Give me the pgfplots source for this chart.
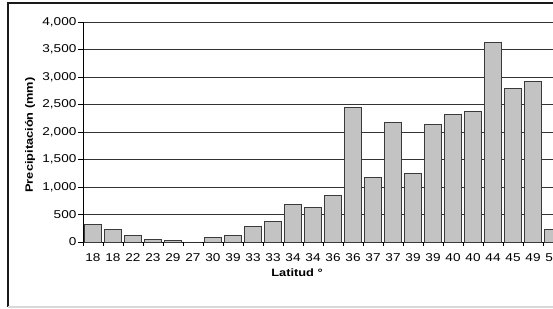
\documentclass[border=0pt]{standalone}
\usepackage{pgfplots}
\pgfplotsset{compat=1.18}
\usepackage{fontspec}
\setmainfont{Liberation Sans}[FakeStretch=1.2]
\definecolor{barfill}{HTML}{C3C3C3}
\definecolor{baredge}{HTML}{3A3A3A}
\begin{document}
\begin{tikzpicture}[x=0.75pt,y=0.75pt]
\useasboundingbox (0,0) rectangle (553,308);
\clip (0,0) rectangle (553,308);
\fill[white] (0,0) rectangle (553,308);
\draw[black!90, line width=0.8pt] (8,1) -- (8,305) -- (553,305);
\draw[black!15, line width=1.5pt] (8,1.2) -- (553,1.2);
\begin{axis}[
  at={(62.25pt,49.5pt)}, anchor=south west,
  scale only axis, width=360pt, height=165pt,
  xmin=-0.5, xmax=23.5, ymin=0, ymax=4000,
  axis x line*=bottom, axis y line*=left,
  axis line style={black, line width=0.75pt},
  ybar, bar width=13.3pt,
  ytick={0,500,...,4000},
  ymajorgrids, grid style={black!80, line width=0.7pt},
  xtick={0,...,23},
  xticklabels={18,18,22,23,29,27,30,39,33,33,34,34,36,36,37,37,39,39,40,40,44,45,49,50},
  minor xtick={-0.5,0.5,...,23.5},
  major x tick style={draw=none},
  minor tick length=3pt, major tick length=3.75pt,
  tick align=outside,
  tick style={black, line width=0.75pt},
  /pgf/number format/.cd, 1000 sep={,}, assume math mode=true,
  /pgfplots/.cd,
  ticklabel style={font=\fontsize{8.5}{10}\selectfont},
  yticklabel style={inner sep=1pt},
  xticklabel style={inner sep=1pt, yshift=-3.5pt},
]
\addplot[fill=barfill, draw=baredge, line width=0.75pt] coordinates {
(0,320) (1,220) (2,110) (3,40) (4,35) (5,0) (6,90) (7,110) (8,280) (9,380)
(10,685) (11,620) (12,850) (13,2440) (14,1180) (15,2180) (16,1250) (17,2140)
(18,2310) (19,2370) (20,3620) (21,2800) (22,2920) (23,220)
};
\end{axis}
\node[font=\bfseries\fontsize{8}{9}\selectfont] at (297,35) {Latitud °};
\node[font=\bfseries\fontsize{8}{9}\selectfont, rotate=90] at (30,173) {Precipitación (mm)};
\end{tikzpicture}
\end{document}
